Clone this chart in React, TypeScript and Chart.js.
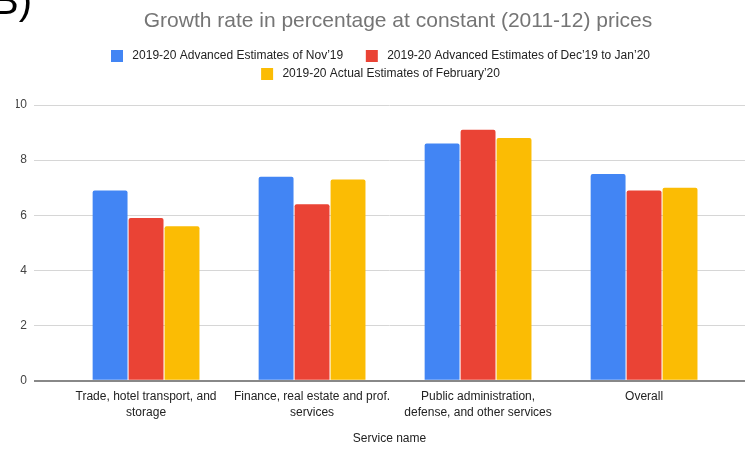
import React, { useEffect, useRef } from "react";
import { Chart, registerables } from "chart.js";

Chart.register(...registerables);

const categories: string[][] = [
  ["Trade, hotel transport, and", "storage"],
  ["Finance, real estate and prof.", "services"],
  ["Public administration,", "defense, and other services"],
  ["Overall"],
];
const seriesNames = [
  "2019-20 Advanced Estimates of Nov’19",
  "2019-20 Advanced Estimates of Dec’19 to Jan’20",
  "2019-20 Actual Estimates of February’20",
];
const nov19 = [6.9, 7.4, 8.6, 7.5];
const decJan20 = [5.9, 6.4, 9.1, 6.9];
const feb20 = [5.6, 7.3, 8.8, 7.0];
const yTicks = [0, 2, 4, 6, 8, 10];
const chartTitle = "Growth rate in percentage at constant (2011-12) prices";
const xAxisTitle = "Service name";
const cornerLabel = "B)";

const colors = ["#4285F4", "#EA4335", "#FBBC04"];
const FONT = "'Liberation Sans', Arial, sans-serif";

export default function App() {
  const ref = useRef<HTMLCanvasElement | null>(null);
  useEffect(() => {
    if (!ref.current) return;
    const series = [nov19, decJan20, feb20];
    const legendPatch = {
      id: "legendPatch",
      beforeInit(chart: any) {
        const lg = chart.legend;
        if (!lg) return;
        const orig = lg.fit;
        lg.fit = function () {
          orig.call(this);
          this.height = 61;
        };
      },
    };
    const overlay = {
      id: "overlay",
      afterDraw(chart: any) {
        const ctx = chart.ctx;
        ctx.save();
        ctx.fillStyle = "#757575";
        ctx.font = `21px ${FONT}`;
        ctx.textAlign = "center";
        ctx.textBaseline = "alphabetic";
        ctx.fillText(chartTitle, 398, 27);
        ctx.fillStyle = "#000";
        ctx.font = `40px ${FONT}`;
        ctx.textAlign = "left";
        ctx.fillText(cornerLabel, -8, 14);
        ctx.restore();
      },
    };
    const chart = new Chart(ref.current, {
      type: "bar",
      data: {
        datasets: series.map((vals, si) => ({
          label: seriesNames[si],
          data: vals.map((v, i) => ({ x: i, y: v })),
          backgroundColor: colors[si],
          borderColor: colors[si],
          borderWidth: 0,
          borderRadius: 2,
          categoryPercentage: 0.65,
          barPercentage: 0.97,
        })),
      },
      options: {
        responsive: false,
        animation: false,
        layout: { padding: { left: 16, right: 0, top: 44, bottom: 3 } },
        font: { family: FONT },
        plugins: {
          title: { display: false },
          tooltip: { enabled: false },
          legend: {
            display: true,
            position: "top",
            labels: {
              boxWidth: 12,
              boxHeight: 12,
              padding: 6,
              color: "#222",
              font: { family: FONT, size: 12 },
              generateLabels: (chart: any) => {
                const items = Chart.defaults.plugins.legend.labels.generateLabels(chart);
                return items.map((it: any, i: number) => ({
                  ...it,
                  text: " " + it.text + (i === 0 ? "     " : ""),
                }));
              },
            },
          },
        },
        scales: {
          x: {
            type: "linear",
            offset: false,
            min: -0.675,
            max: 3.608,
            grid: { display: false, drawTicks: false, offset: false },
            border: { display: false },
            afterBuildTicks: (scale: any) => {
              scale.ticks = categories.map((_, i) => ({ value: i }));
            },
            ticks: {
              autoSkip: false,
              maxRotation: 0,
              minRotation: 0,
              padding: 8,
              color: "#222",
              font: { family: FONT, size: 12, lineHeight: 1.33 },
              callback: (v: any) => categories[v as number] ?? "",
            },
            title: {
              display: true,
              text: xAxisTitle,
              color: "#222",
              font: { family: FONT, size: 12 },
              padding: { top: 3, bottom: 4 },
            },
          },
          y: {
            min: 0,
            max: 10,
            afterFit: (scale: any) => {
              scale.width = 18;
            },
            afterBuildTicks: (scale: any) => {
              scale.ticks = yTicks.map((v) => ({ value: v }));
            },
            border: { display: false },
            grid: {
              drawTicks: false,
              color: (c: any) => (c.tick && c.tick.value === 0 ? "#888" : "#d6d6d6"),
              lineWidth: (c: any) => (c.tick && c.tick.value === 0 ? 2 : 1),
            },
            ticks: {
              padding: 7,
              color: "#444",
              font: { family: FONT, size: 12 },
            },
          },
        },
      } as any,
      plugins: [legendPatch, overlay],
    });
    return () => chart.destroy();
  }, []);
  return (
    <div style={{ position: "absolute", left: 0, top: 0, width: 745, height: 453, background: "#fff" }}>
      <canvas ref={ref} width={745} height={453} />
    </div>
  );
}
